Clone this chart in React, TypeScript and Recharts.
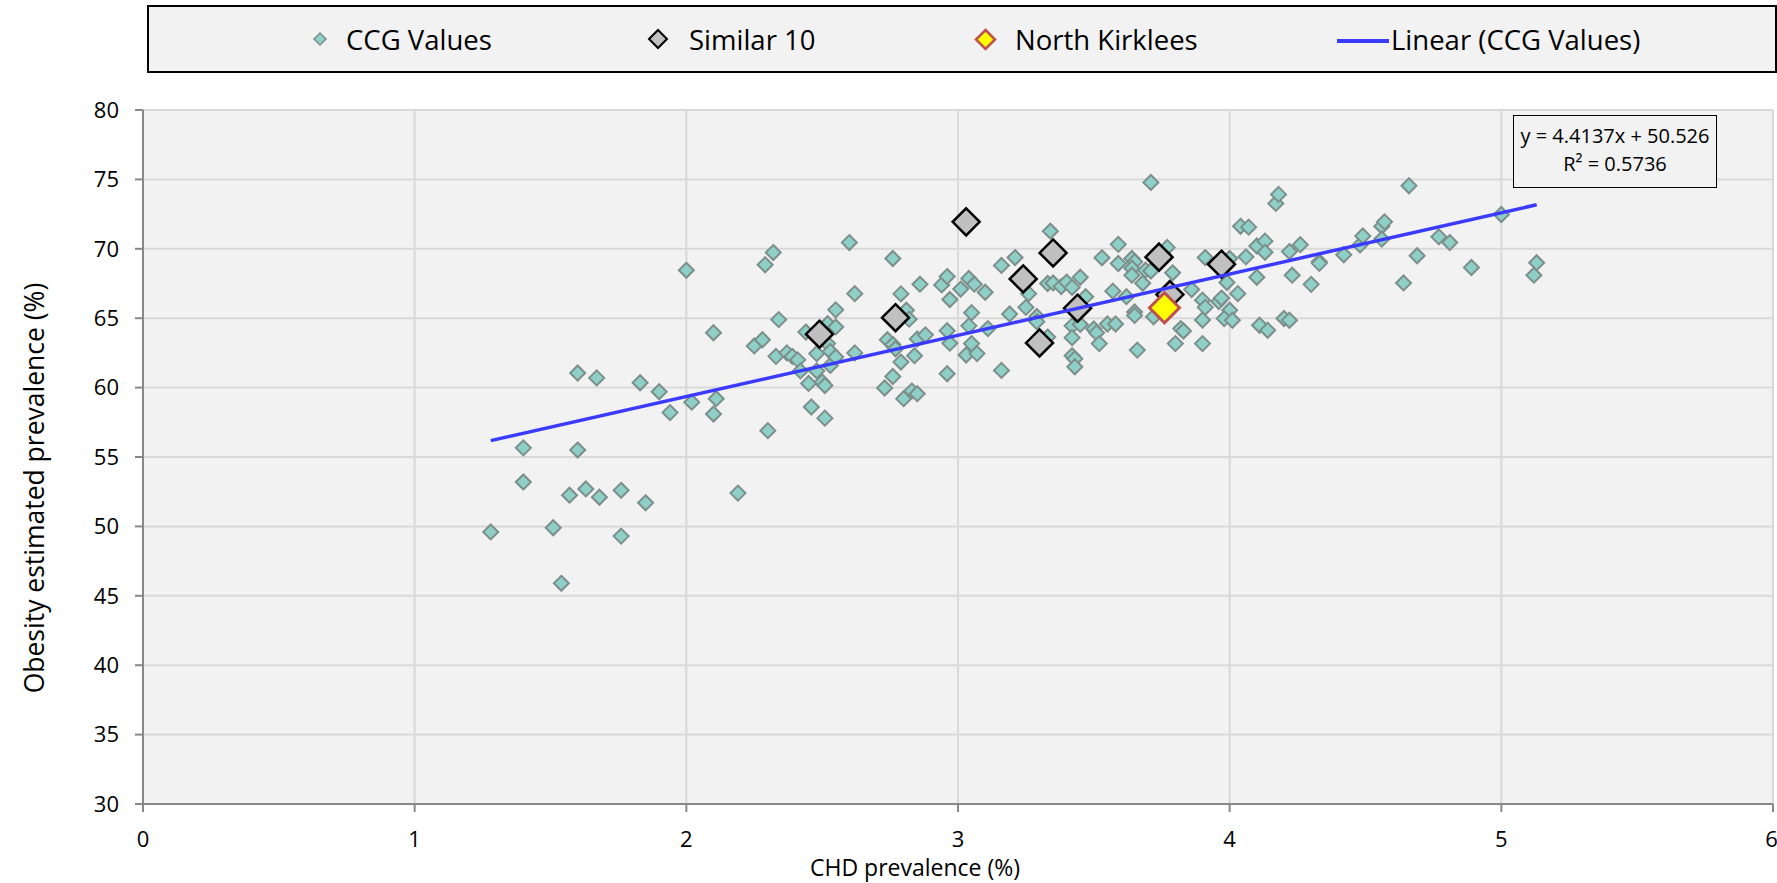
import React from 'react';
import { ScatterChart, Scatter, XAxis, YAxis, CartesianGrid } from 'recharts';

// CHD prevalence (%) vs Obesity estimated prevalence (%)
const ccgX = [
  1.28, 1.40, 1.40, 1.51, 1.54, 1.57, 1.60, 1.60, 1.63, 1.67, 1.68, 1.76, 1.76, 1.83, 1.85, 1.90, 1.94, 2.00, 2.02, 2.10,
  2.10, 2.11, 2.19, 2.25, 2.28, 2.29, 2.30, 2.32, 2.33, 2.34, 2.37, 2.39, 2.41, 2.42, 2.44, 2.45, 2.46, 2.48, 2.48, 2.50,
  2.51, 2.51, 2.52, 2.52, 2.53, 2.53, 2.55, 2.55, 2.55, 2.60, 2.62, 2.62, 2.73, 2.74, 2.76, 2.76, 2.76, 2.77, 2.79, 2.79,
  2.80, 2.81, 2.82, 2.83, 2.84, 2.85, 2.85, 2.86, 2.88, 2.94, 2.96, 2.96, 2.96, 2.97, 2.97, 3.01, 3.03, 3.04, 3.04, 3.05,
  3.05, 3.06, 3.07, 3.10, 3.11, 3.16, 3.16, 3.19, 3.21, 3.25, 3.26, 3.29, 3.29, 3.33, 3.34, 3.33, 3.35, 3.38, 3.40, 3.42,
  3.45, 3.47, 3.42, 3.42, 3.42, 3.43, 3.43, 3.45, 3.50, 3.51, 3.52, 3.53, 3.55, 3.58, 3.57, 3.59, 3.59, 3.62, 3.64, 3.65,
  3.64, 3.64, 3.68, 3.69, 3.71, 3.65, 3.65, 3.66, 3.71, 3.72, 3.77, 3.79, 3.80, 3.82, 3.83, 3.86, 3.90, 3.91, 3.90, 3.90,
  3.91, 3.96, 3.97, 3.99, 4.00, 3.98, 4.01, 4.03, 4.00, 4.04, 4.07, 4.06, 4.10, 4.10, 4.13, 4.13, 4.11, 4.14, 4.17, 4.18,
  4.20, 4.22, 4.22, 4.23, 4.26, 4.30, 4.33, 4.33, 4.42, 4.48, 4.49, 4.56, 4.57, 4.56, 4.64, 4.66, 4.69, 4.77, 4.81, 4.89,
  5.00, 5.12, 5.13,
];
const ccgY = [
  49.6, 55.66, 53.2, 49.9, 45.9, 52.25, 55.5, 61.05, 52.7, 60.7, 52.1, 52.6, 49.3, 60.35, 51.7, 59.7, 58.2, 68.45, 58.95, 63.95,
  58.1, 59.2, 52.4, 63.0, 63.45, 68.85, 56.9, 69.73, 62.25, 64.9, 62.5, 62.25, 62.0, 61.2, 64.0, 60.3, 58.6, 62.45, 61.2, 60.4,
  60.15, 57.8, 64.6, 63.17, 62.6, 61.6, 64.37, 65.6, 62.2, 70.45, 66.77, 62.5, 59.97, 63.45, 69.3, 63.1, 60.8, 62.8, 66.75, 61.84,
  59.2, 65.57, 64.93, 59.75, 62.3, 63.5, 59.56, 67.45, 63.8, 67.4, 68.0, 64.1, 61.0, 66.35, 63.2, 67.1, 62.35, 67.86, 64.45, 65.4,
  63.17, 67.45, 62.45, 66.87, 64.25, 68.8, 61.24, 65.3, 69.37, 65.78, 66.77, 65.12, 64.75, 63.64, 71.27, 67.5, 67.54, 67.28, 67.6, 67.22,
  67.95, 66.55, 64.45, 63.6, 62.3, 62.07, 61.5, 64.55, 64.22, 63.95, 63.17, 69.35, 64.58, 64.58, 66.95, 70.32, 68.94, 66.55, 69.3, 69.06,
  68.6, 68.1, 67.52, 68.46, 68.4, 65.45, 65.2, 62.7, 74.78, 65.1, 70.1, 68.27, 63.17, 64.25, 64.08, 67.07, 66.3, 65.78, 64.87, 63.17,
  69.37, 66.2, 66.45, 67.57, 65.57, 64.97, 64.85, 66.77, 69.3, 71.62, 71.56, 69.42, 67.95, 70.2, 70.55, 69.75, 64.49, 64.13, 73.27, 73.92,
  64.98, 64.85, 69.8, 68.1, 70.3, 67.44, 69.06, 68.95, 69.57, 70.28, 70.92, 71.62, 71.94, 70.7, 67.54, 74.54, 69.5, 70.86, 70.45, 68.65,
  72.47, 68.1, 69.0,
];
const similarX = [2.49, 2.77, 3.03, 3.24, 3.30, 3.35, 3.44, 3.74, 3.78, 3.97];
const similarY = [63.85, 65.04, 71.94, 67.83, 63.22, 69.7, 65.72, 69.4, 66.7, 68.89];
const northKirkleesX = [3.76];
const northKirkleesY = [65.75];
const trendX = [1.28, 5.13];
const trendY = [56.18, 73.17];

const xTicks = [0, 1, 2, 3, 4, 5, 6];
const yTicks = [30, 35, 40, 45, 50, 55, 60, 65, 70, 75, 80];

const zip = (xs: number[], ys: number[]) => xs.map((x, i) => ({ x, y: ys[i] }));
const ccgData = zip(ccgX, ccgY);
const similarData = zip(similarX, similarY);
const nkData = zip(northKirkleesX, northKirkleesY);
const trendData = zip(trendX, trendY);

const FONT = '"Open Sans", "Noto Sans", sans-serif';

const diamond = (r: number, fill: string, stroke: string, sw: number) => (props: any) => {
  const { cx, cy } = props;
  if (cx == null || cy == null) return <g />;
  return (
    <polygon
      points={`${cx},${cy - r} ${cx + r},${cy} ${cx},${cy + r} ${cx - r},${cy}`}
      fill={fill}
      stroke={stroke}
      strokeWidth={sw}
      strokeLinejoin="miter"
    />
  );
};

const CCG_FILL = '#8ed0c7';
const CCG_STROKE = '#7d8f8b';

const LegendIcon = ({ r, fill, stroke, sw }: { r: number; fill: string; stroke: string; sw: number }) => (
  <svg width={2 * r + 4} height={2 * r + 4} style={{ display: 'block' }}>
    <polygon
      points={`${r + 2},2 ${2 * r + 2},${r + 2} ${r + 2},${2 * r + 2} 2,${r + 2}`}
      fill={fill}
      stroke={stroke}
      strokeWidth={sw}
    />
  </svg>
);

const legendText: React.CSSProperties = { position: 'absolute', top: 20, fontSize: 27.5, lineHeight: '40px', whiteSpace: 'nowrap' };

export default function App() {
  return (
    <div style={{ position: 'relative', width: 1777, height: 883, background: '#fff', fontFamily: FONT }}>
      <style>{`body{margin:0;}`}</style>
      <ScatterChart width={1777} height={883} margin={{ top: 110, right: 4, bottom: 0, left: 0 }}>
        <CartesianGrid stroke="#d9d9d9" strokeWidth={2} fill="#f2f2f2" />
        <XAxis
          type="number"
          dataKey="x"
          domain={[0, 6]}
          ticks={xTicks}
          allowDataOverflow
          height={79}
          tickSize={8}
          tickMargin={19}
          axisLine={{ stroke: '#888', strokeWidth: 2 }}
          tickLine={{ stroke: '#888', strokeWidth: 2 }}
          tick={{ fill: '#000', fontSize: 22, fontFamily: FONT }}
        />
        <YAxis
          type="number"
          dataKey="y"
          domain={[30, 80]}
          ticks={yTicks}
          allowDataOverflow
          width={143}
          tickSize={8}
          tickMargin={16}
          axisLine={{ stroke: '#888', strokeWidth: 2 }}
          tickLine={{ stroke: '#888', strokeWidth: 2 }}
          tick={{ fill: '#000', fontSize: 22, fontFamily: FONT }}
        />
        <Scatter data={ccgData} isAnimationActive={false} shape={diamond(7.5, CCG_FILL, CCG_STROKE, 2)} />
        <Scatter data={similarData} isAnimationActive={false} shape={diamond(13.5, '#c0c0c0', '#000', 2.5)} />
        <Scatter data={nkData} isAnimationActive={false} shape={diamond(15, '#ffff00', '#c0504d', 3)} />
        <Scatter
          data={trendData}
          isAnimationActive={false}
          line={{ stroke: '#3b3bff', strokeWidth: 3.5 }}
          shape={() => <g />}
        />
      </ScatterChart>

      {/* Legend */}
      <div
        style={{
          position: 'absolute',
          left: 147,
          top: 5,
          width: 1630,
          height: 68,
          boxSizing: 'border-box',
          border: '2px solid #000',
          background: '#f2f2f2',
        }}
      />
      <div style={{ position: 'absolute', left: 312, top: 31 }}>
        <LegendIcon r={6} fill={CCG_FILL} stroke={CCG_STROKE} sw={1.5} />
      </div>
      <div style={{ ...legendText, left: 346 }}>CCG Values</div>
      <div style={{ position: 'absolute', left: 647, top: 28 }}>
        <LegendIcon r={9} fill="#c0c0c0" stroke="#000" sw={2} />
      </div>
      <div style={{ ...legendText, left: 689 }}>Similar 10</div>
      <div style={{ position: 'absolute', left: 974, top: 28 }}>
        <LegendIcon r={9.5} fill="#ffff00" stroke="#c0504d" sw={2.5} />
      </div>
      <div style={{ ...legendText, left: 1015 }}>North Kirklees</div>
      <div style={{ position: 'absolute', left: 1337, top: 39, width: 52, height: 3.5, background: '#3b3bff' }} />
      <div style={{ ...legendText, left: 1391 }}>Linear (CCG Values)</div>

      {/* Equation box */}
      <div
        style={{
          position: 'absolute',
          left: 1513,
          top: 115,
          width: 204,
          height: 73,
          boxSizing: 'border-box',
          border: '1.5px solid #000',
          background: '#f2f2f2',
          textAlign: 'center',
          fontSize: 20,
          lineHeight: '28px',
          paddingTop: 6,
          whiteSpace: 'nowrap',
        }}
      >
        <div>y = 4.4137x + 50.526</div>
        <div>R² = 0.5736</div>
      </div>

      {/* Axis titles */}
      <div
        style={{
          position: 'absolute',
          left: 915,
          top: 867,
          transform: 'translate(-50%, -50%)',
          fontSize: 23,
          whiteSpace: 'nowrap',
        }}
      >
        CHD prevalence (%)
      </div>
      <div
        style={{
          position: 'absolute',
          left: 34,
          top: 488,
          transform: 'translate(-50%, -50%) rotate(-90deg)',
          fontSize: 26.5,
          whiteSpace: 'nowrap',
        }}
      >
        Obesity estimated prevalence (%)
      </div>
    </div>
  );
}
